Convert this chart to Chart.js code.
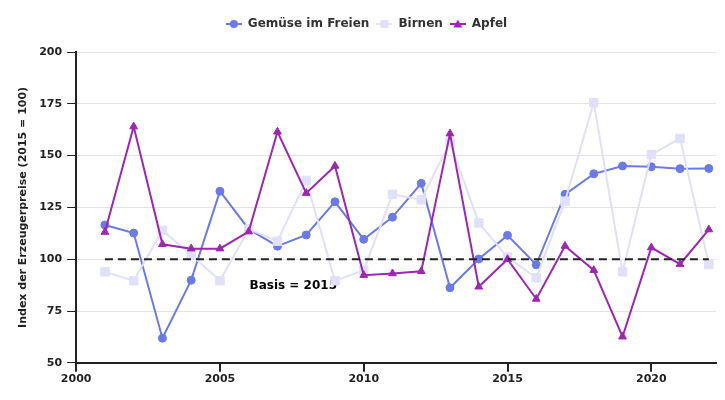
<!DOCTYPE html>
<html>
<head>
<meta charset="utf-8">
<script src="https://cdn.jsdelivr.net/npm/chart.js@4/dist/chart.umd.min.js"></script>
<style>
  html, body { margin: 0; padding: 0; background: #fff; }
  #wrap { width: 725px; height: 400px; }
</style>
</head>
<body>
<div id="wrap"><canvas id="myGrafic"></canvas></div>
<script>
// Jahre und Werte
let years = [2001, 2002, 2003, 2004, 2005, 2006, 2007, 2008, 2009, 2010, 2011,
             2012, 2013, 2014, 2015, 2016, 2017, 2018, 2019, 2020, 2021, 2022];
let gemuese = [116.5, 112.6, 61.9, 89.9, 132.8, 114.5, 106.3, 111.7, 127.7, 109.6, 120.3,
               136.6, 86.2, 100.1, 111.5, 97.3, 131.3, 141.2, 145.0, 144.6, 143.7, 143.8];
let birnen = [93.9, 89.6, 113.9, 102.2, 89.6, 114.5, 108.7, 138.0, 89.6, 94.6, 131.3,
              128.7, 156.4, 117.5, 101.0, 91.0, 128.0, 175.6, 93.9, 150.5, 158.3, 97.4];
let apfel = [113.1, 164.0, 107.2, 105.1, 105.1, 113.3, 161.5, 131.9, 145.0, 92.3, 93.1,
             94.2, 160.6, 86.7, 100.0, 80.8, 106.4, 94.7, 62.6, 105.6, 97.6, 114.3];
let basisYears = [2001, 2022];
let basisValue = 100;
let yTicks = [50, 75, 100, 125, 150, 175, 200];

const font = 'DejaVu Sans';
const cGem = '#6b7be3';
const cBir = '#e0e0f8';
const cApf = '#9c27b0';

// Legend-Symbol: Linie mit Marker
function legendIcon(color, style){
  let c = document.createElement('canvas');
  c.width = 16; c.height = 12;
  let ctx = c.getContext('2d');
  ctx.strokeStyle = color; ctx.fillStyle = color; ctx.lineWidth = 2;
  ctx.beginPath(); ctx.moveTo(0, 6); ctx.lineTo(16, 6); ctx.stroke();
  ctx.beginPath();
  if(style === 'circle'){ ctx.arc(8, 6, 4, 0, Math.PI*2); }
  else if(style === 'rect'){ ctx.rect(4, 2, 8, 8); }
  else { ctx.moveTo(8, 1.5); ctx.lineTo(12.5, 9.5); ctx.lineTo(3.5, 9.5); ctx.closePath(); }
  ctx.fill();
  return c;
}

function toPoints(vals){
  return years.map((y, i) => ({x: y, y: vals[i]}));
}

// Text "Basis = 2015"
const basisText = {
  id: 'basisText',
  beforeDatasetsDraw(chart){
    const {ctx, scales} = chart;
    ctx.save();
    ctx.font = 'bold 12px ' + font;
    ctx.fillStyle = '#000';
    ctx.textAlign = 'center';
    ctx.textBaseline = 'middle';
    ctx.fillText('Basis = 2015', scales.x.getPixelForValue(2007.55), scales.y.getPixelForValue(87.3));
    ctx.restore();
  }
};

// etwas mehr Platz unter der Legende
const legendSpace = {
  id: 'legendSpace',
  beforeInit(chart){
    const fit = chart.legend.fit;
    chart.legend.fit = function(){
      fit.bind(chart.legend)();
      this.height += 12;
    };
  }
};

let myChart = {
  type: 'line',
  data: {
    datasets: [
      {
        label: 'Basis',
        data: basisYears.map(y => ({x: y, y: basisValue})),
        borderColor: '#222',
        borderWidth: 2,
        borderDash: [8, 5],
        pointRadius: 0,
        fill: false,
        order: -1
      },
      {
        label: 'Gemüse im Freien',
        data: toPoints(gemuese),
        borderColor: cGem, backgroundColor: cGem,
        borderWidth: 2, pointStyle: 'circle', pointRadius: 4, pointBorderWidth: 1,
        order: 2,
        icon: legendIcon(cGem, 'circle')
      },
      {
        label: 'Birnen',
        data: toPoints(birnen),
        borderColor: cBir, backgroundColor: cBir,
        borderWidth: 2, pointStyle: 'rect', pointRadius: 6, pointBorderWidth: 1,
        order: 1,
        icon: legendIcon(cBir, 'rect')
      },
      {
        label: 'Apfel',
        data: toPoints(apfel),
        borderColor: cApf, backgroundColor: cApf,
        borderWidth: 2, pointStyle: 'triangle', pointRadius: 4.5, pointBorderWidth: 1,
        order: 0,
        icon: legendIcon(cApf, 'triangle')
      }
    ]
  },
  options: {
    responsive: true,
    maintainAspectRatio: false,
    animation: false,
    layout: { padding: { left: 17, right: 9, top: 11, bottom: 13 } },
    plugins: {
      tooltip: { enabled: false },
      legend: {
        position: 'top',
        labels: {
          font: { family: font, size: 12, weight: 'bold' },
          color: '#333',
          pointStyleWidth: 16,
          padding: 7,
          usePointStyle: true,
          filter: item => item.text !== 'Basis',
          generateLabels(chart){
            return chart.data.datasets.map((ds, i) => ({
              text: ds.label,
              pointStyle: ds.icon,
              fillStyle: ds.borderColor,
              strokeStyle: ds.borderColor,
              lineWidth: 0,
              fontColor: '#333',
              datasetIndex: i,
              hidden: false
            }));
          }
        }
      }
    },
    scales: {
      x: {
        type: 'linear',
        min: 2000,
        max: 2022.25,
        ticks: {
          stepSize: 5,
          includeBounds: false,
          callback: v => String(v),
          font: { family: font, size: 11, weight: 'bold' },
          color: '#222',
          padding: 1
        },
        grid: { drawOnChartArea: false, tickColor: '#222', tickLength: 9, lineWidth: 2 },
        border: { color: '#222', width: 2 }
      },
      y: {
        min: 50,
        max: 200,
        afterBuildTicks(axis){ axis.ticks = yTicks.map(v => ({value: v})); },
        ticks: {
          callback: v => String(v),
          font: { family: font, size: 11, weight: 'bold' },
          color: '#222',
          padding: 5
        },
        grid: { color: '#e4e4e4', tickColor: '#222', tickLength: 9, lineWidth: 1 },
        border: { color: '#222', width: 2 },
        title: {
          display: true,
          text: 'Index der Erzeugerpreise (2015 = 100)',
          font: { family: font, size: 11, weight: 'bold' },
          color: '#222',
          padding: { top: 0, bottom: 4 }
        }
      }
    }
  },
  plugins: [basisText, legendSpace]
};

var myGrafic = document.getElementById('myGrafic');
window.chart = new Chart(myGrafic, myChart);
</script>
</body>
</html>
